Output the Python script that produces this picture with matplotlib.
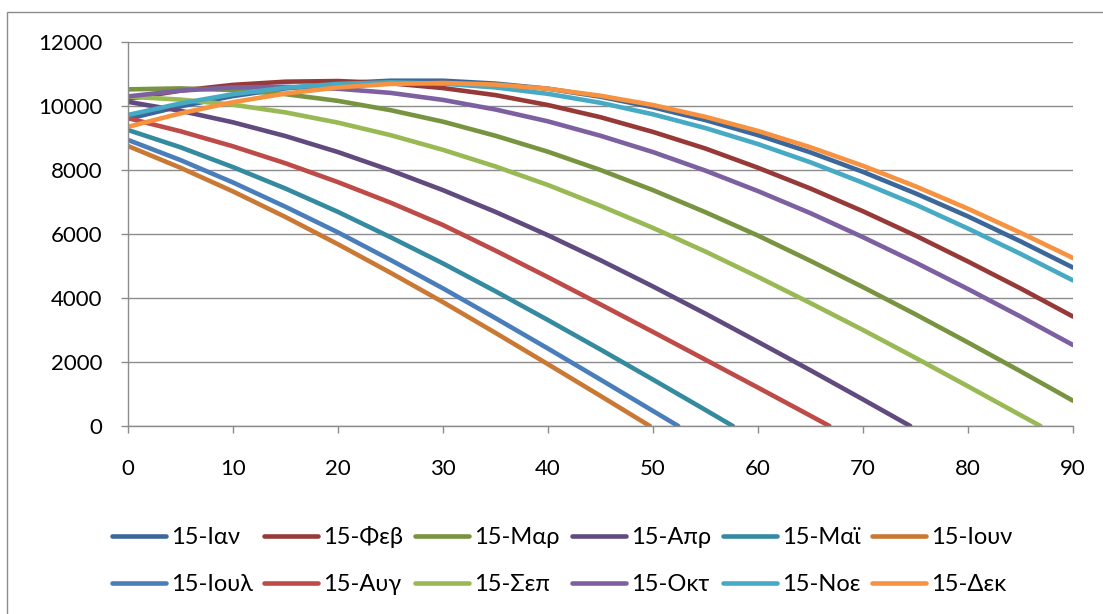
import matplotlib
matplotlib.use("Agg")
import matplotlib.pyplot as plt
from matplotlib.patches import Rectangle

plt.rcParams["font.family"] = ["Lato", "Noto Sans", "DejaVu Sans"]

# ---------------------------------------------------------------------------
# Data
# ---------------------------------------------------------------------------
x_full = [0, 5, 10, 15, 20, 25, 30, 35, 40, 45, 50, 55, 60, 65, 70, 75, 80, 85, 90]

jan = [9600, 9990, 10310, 10550, 10710, 10790, 10790, 10700, 10540, 10290,
       9960, 9560, 9090, 8550, 7940, 7270, 6550, 5770, 4950]
feb = [10220, 10480, 10660, 10760, 10780, 10710, 10560, 10340, 10030, 9650,
       9190, 8670, 8070, 7420, 6710, 5950, 5140, 4300, 3420]
mar = [10520, 10550, 10500, 10370, 10160, 9870, 9510, 9070, 8570, 8000,
       7370, 6680, 5950, 5160, 4340, 3490, 2610, 1710, 790]

x_apr = [0, 5, 10, 15, 20, 25, 30, 35, 40, 45, 50, 55, 60, 65, 70, 74.5]
apr = [10130, 9850, 9490, 9060, 8560, 7990, 7370, 6690, 5960, 5180,
       4360, 3510, 2630, 1740, 830, 0]

x_may = [0, 5, 10, 15, 20, 25, 30, 35, 40, 45, 50, 55, 57.6]
may = [9250, 8710, 8090, 7420, 6690, 5900, 5080, 4210, 3310, 2390, 1450, 500, 0]

x_jun = [0, 5, 10, 15, 20, 25, 30, 35, 40, 45, 49.7]
jun = [8750, 8070, 7330, 6530, 5680, 4790, 3870, 2910, 1930, 940, 0]

x_jul = [0, 5, 10, 15, 20, 25, 30, 35, 40, 45, 50, 52.4]
jul = [8940, 8310, 7610, 6850, 6050, 5190, 4300, 3370, 2420, 1450, 470, 0]

x_aug = [0, 5, 10, 15, 20, 25, 30, 35, 40, 45, 50, 55, 60, 65, 66.8]
aug = [9620, 9210, 8740, 8210, 7620, 6980, 6280, 5480, 4650, 3800,
       2940, 2070, 1200, 320, 0]

x_sep = [0, 5, 10, 15, 20, 25, 30, 35, 40, 45, 50, 55, 60, 65, 70, 75, 80, 85, 86.9]
sep = [10290, 10200, 10040, 9800, 9480, 9090, 8630, 8110, 7530, 6880,
       6190, 5450, 4660, 3840, 3000, 2130, 1240, 340, 0]

oct_ = [10300, 10480, 10580, 10600, 10540, 10410, 10190, 9890, 9520, 9070,
        8560, 7980, 7340, 6650, 5900, 5110, 4280, 3420, 2530]
nov = [9720, 10080, 10370, 10570, 10690, 10740, 10700, 10580, 10380, 10100,
       9740, 9310, 8810, 8240, 7600, 6920, 6170, 5380, 4550]
dec = [9350, 9770, 10120, 10390, 10580, 10690, 10720, 10670, 10540, 10320,
       10030, 9660, 9220, 8710, 8130, 7490, 6790, 6040, 5250]

labels = ["15-Ιαν", "15-Φεβ", "15-Μαρ", "15-Απρ", "15-Μαϊ", "15-Ιουν",
          "15-Ιουλ", "15-Αυγ", "15-Σεπ", "15-Οκτ", "15-Νοε", "15-Δεκ"]
series_x = [x_full, x_full, x_full, x_apr, x_may, x_jun,
            x_jul, x_aug, x_sep, x_full, x_full, x_full]
series_y = [jan, feb, mar, apr, may, jun, jul, aug, sep, oct_, nov, dec]

colors = ["#3C679B", "#973A37", "#789440", "#604A7E", "#348A9F", "#CA7935",
          "#4A7EBB", "#BE4B48", "#98B954", "#7D60A0", "#46AAC5", "#F69240"]

GRID = "#8C8C8C"

# ---------------------------------------------------------------------------
# Figure
# ---------------------------------------------------------------------------
W, H = 1103, 614
fig = plt.figure(figsize=(W / 100, H / 100), dpi=100)
fig.patch.set_facecolor("white")

# outer chart frame (right/bottom edges fall outside the picture)
fig.add_artist(Rectangle((7 / W, -0.5), 2.0, (1 - 12 / H) + 0.5,
                         transform=fig.transFigure, fill=False,
                         edgecolor=GRID, linewidth=1.0))

ax = fig.add_axes([128 / W, 1 - 426 / H, (1073 - 128) / W, (426 - 42) / H])

for xs, ys, c, lab in zip(series_x, series_y, colors, labels):
    ax.plot(xs, ys, color=c, linewidth=3.3, solid_capstyle="round",
            solid_joinstyle="round", label=lab)

ax.set_xlim(0, 90)
ax.set_ylim(0, 12000)
ax.set_xticks(range(0, 91, 10))
ax.set_yticks(range(0, 12001, 2000))
ax.grid(axis="y", color=GRID, linewidth=1.0)
ax.set_axisbelow(True)

for side in ("top", "right"):
    ax.spines[side].set_visible(False)
for side in ("left", "bottom"):
    ax.spines[side].set_color(GRID)
    ax.spines[side].set_linewidth(1.0)

ax.tick_params(axis="both", direction="out", length=5, width=1.0,
               color=GRID, labelsize=16, labelcolor="black")
ax.tick_params(axis="y", pad=13.5)
ax.tick_params(axis="x", pad=19)

handles, labs = ax.get_legend_handles_labels()
order = [0, 6, 1, 7, 2, 8, 3, 9, 4, 10, 5, 11]
fig.legend([handles[i] for i in order], [labs[i] for i in order],
           ncol=6, loc="center", bbox_to_anchor=(562 / W, 1 - 560.5 / H),
           frameon=False, fontsize=17, handlelength=2.29, handletextpad=0.21,
           columnspacing=0.5, labelspacing=1.1, borderpad=0, borderaxespad=0)

fig.savefig("out.png", dpi=100, facecolor="white")
